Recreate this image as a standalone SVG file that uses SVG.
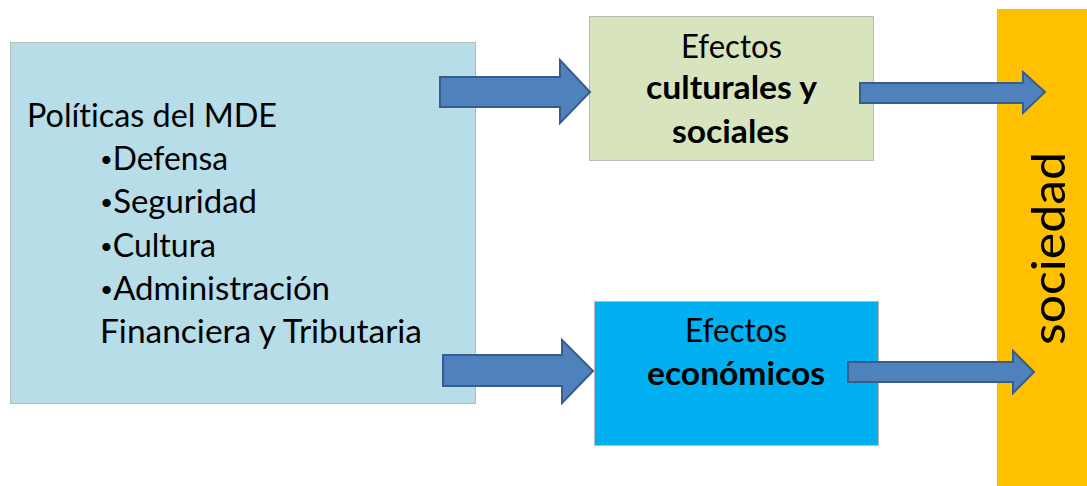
<svg xmlns="http://www.w3.org/2000/svg" width="1087" height="486" viewBox="0 0 1087 486">
<defs>
<style>
.box{stroke:#b9b9b9;stroke-width:1}
.t{font-family:Lato,"Open Sans","Liberation Sans",sans-serif;fill:#000;font-variant-ligatures:none;font-feature-settings:"liga" 0,"clig" 0}
.b{font-weight:bold}
.bl{font-size:22px}
.arrow{fill:#4f81bd;stroke:#385d8a;stroke-width:2;stroke-linejoin:miter}
</style>
</defs>
<rect width="1087" height="486" fill="#ffffff"/>
<g id="politicas">
<rect class="box" x="10.5" y="42.5" width="465" height="361" fill="#b7dde8"/>
<text class="t" font-size="32" x="27" y="127" textLength="250" lengthAdjust="spacingAndGlyphs">Políticas del MDE</text>
<text class="t" font-size="32" x="100" y="170" textLength="128" lengthAdjust="spacingAndGlyphs"><tspan class="bl" dy="-3">•</tspan><tspan dy="3">Defensa</tspan></text>
<text class="t" font-size="32" x="100" y="213" textLength="157" lengthAdjust="spacingAndGlyphs"><tspan class="bl" dy="-3">•</tspan><tspan dy="3">Seguridad</tspan></text>
<text class="t" font-size="32" x="100" y="257" textLength="116" lengthAdjust="spacingAndGlyphs"><tspan class="bl" dy="-3">•</tspan><tspan dy="3">Cultura</tspan></text>
<text class="t" font-size="32" x="100" y="300" textLength="230" lengthAdjust="spacingAndGlyphs"><tspan class="bl" dy="-3">•</tspan><tspan dy="3">Administración</tspan></text>
<text class="t" font-size="32" x="100" y="343" textLength="322" lengthAdjust="spacingAndGlyphs">Financiera y Tributaria</text>
</g>
<g id="culturales">
<rect class="box" x="589.5" y="16.5" width="284" height="144" fill="#d7e4bd"/>
<text class="t" font-size="32" x="681" y="58" textLength="101" lengthAdjust="spacingAndGlyphs">Efectos</text>
<text class="t b" font-size="32" x="646" y="99" textLength="171" lengthAdjust="spacingAndGlyphs">culturales y</text>
<text class="t b" font-size="32" x="672" y="143" textLength="117" lengthAdjust="spacingAndGlyphs">sociales</text>
</g>
<g id="economicos">
<rect class="box" x="594.5" y="301.5" width="284" height="144" fill="#00b0f0"/>
<text class="t" font-size="32" x="685" y="342" textLength="102" lengthAdjust="spacingAndGlyphs">Efectos</text>
<text class="t b" font-size="32" x="647" y="385" textLength="178" lengthAdjust="spacingAndGlyphs">económicos</text>
</g>
<g id="sociedad">
<rect class="box" x="997.5" y="9.5" width="100" height="490" fill="#ffc000"/>
<text class="t" font-size="47" transform="translate(1065 345) rotate(-90)" x="0" y="0" textLength="193" lengthAdjust="spacingAndGlyphs">sociedad</text>
</g>
<g id="connectors">
<polygon class="arrow" points="440,77 560,77 560,60 590,92 560,123 560,107 440,107"/>
<polygon class="arrow" points="443,355 562,355 562,340 593,371 562,403 562,386 443,386"/>
<polygon class="arrow" points="860,83 1023,83 1023,72 1045,92 1023,113 1023,103 860,103"/>
<polygon class="arrow" points="848,362 1013,362 1013,351 1034,372 1013,393 1013,382 848,382"/>
</g>
</svg>
